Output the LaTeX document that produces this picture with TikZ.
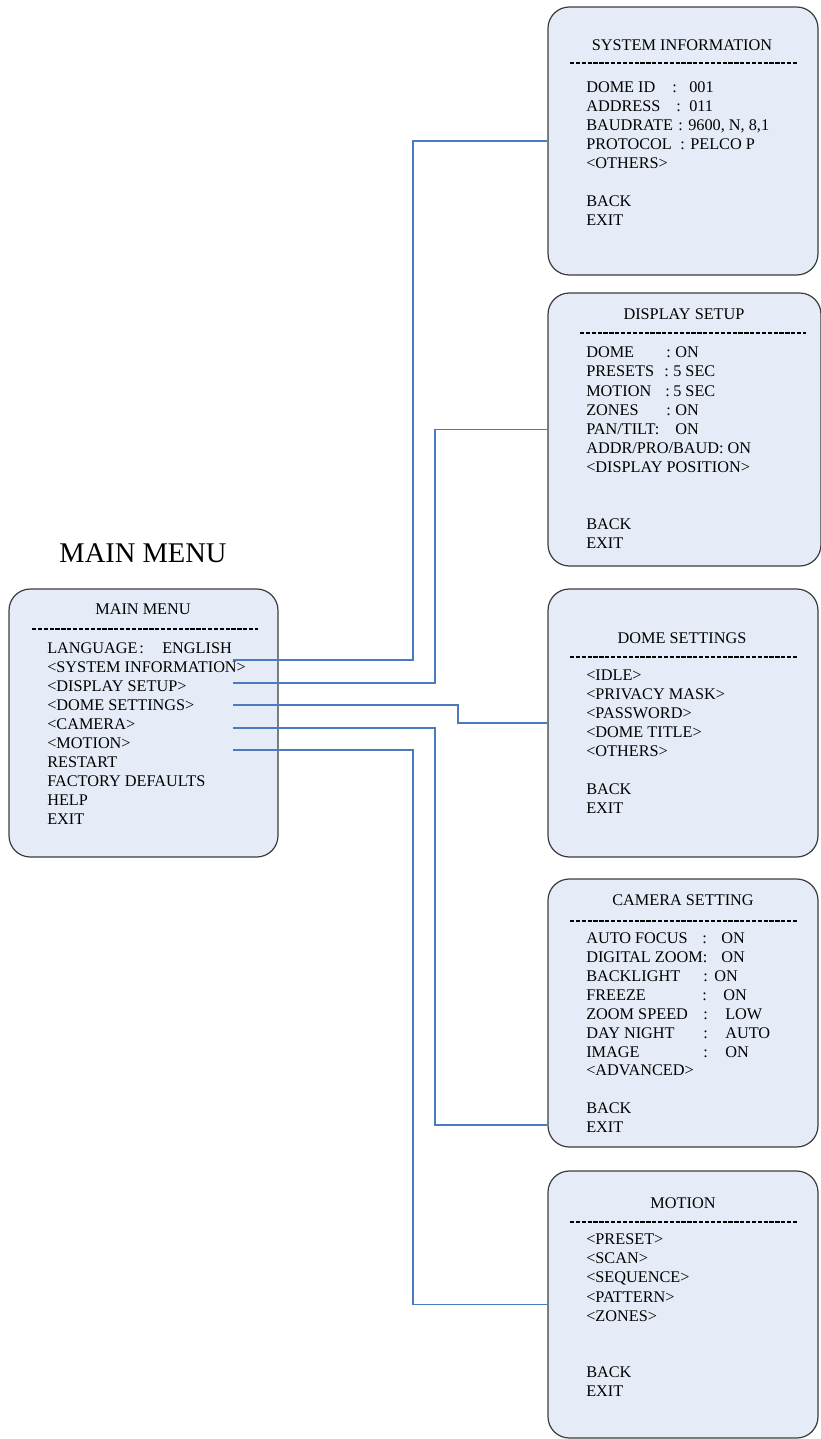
\documentclass[tikz,border=0pt]{standalone}
\usepackage{fontspec}
\setmainfont{Liberation Serif}
\usetikzlibrary{fit,calc}
\definecolor{boxfill}{RGB}{230,236,247}
\definecolor{boxline}{RGB}{60,60,60}
\definecolor{conncol}{RGB}{74,122,192}
\tikzset{
  menubox/.style={draw=boxline, fill=boxfill, rounded corners=16pt, line width=0.9pt, inner sep=0pt},
  itm/.style={anchor=base west, inner sep=0pt, yshift=-4.05pt, font=\fontsize{12.2}{14}\selectfont},
  ttl/.style={anchor=base, inner sep=0pt, yshift=-4.05pt, font=\fontsize{12.2}{14}\selectfont},
  sepline/.style={line width=0.8pt, dash pattern=on 3.2pt off 1.2pt},
  conn/.style={draw=conncol, line width=1pt}
}
\newcommand\tx[4]{\node[itm] (#1) at (#2,#3) {#4};}
\begin{document}
\begin{tikzpicture}[x=0.75pt,y=-0.75pt]
\useasboundingbox[fill=white] (0,0) rectangle (821,1439);
% big title
\node[anchor=base, inner sep=0pt, yshift=-7.1pt, font=\fontsize{21.4}{24}\selectfont] (bigtitle) at (143,553) {MAIN MENU};
% boxes
\node[menubox, fit={(9,589) (278,857)}] (main) {};
\node[menubox, fit={(548,7) (818,275)}] (sys) {};
\node[menubox, fit={(548,293) (821,566)}] (disp) {};
\node[menubox, fit={(548,589) (818,857)}] (dome) {};
\node[menubox, fit={(548,879) (818,1147)}] (cam) {};
\node[menubox, fit={(548,1171) (818,1438)}] (mot) {};
% separators
\coordinate (ms1) at (32,629); \coordinate (ms2) at (258,629);
\draw[sepline] (ms1) -- (ms2);
\coordinate (ss1) at (570,63); \coordinate (ss2) at (797,63);
\draw[sepline] (ss1) -- (ss2);
\coordinate (ds1) at (580,333); \coordinate (ds2) at (806,333);
\draw[sepline] (ds1) -- (ds2);
\coordinate (os1) at (570,657); \coordinate (os2) at (797,657);
\draw[sepline] (os1) -- (os2);
\coordinate (cs1) at (570,921); \coordinate (cs2) at (797,921);
\draw[sepline] (cs1) -- (cs2);
\coordinate (ts1) at (570,1222); \coordinate (ts2) at (797,1222);
\draw[sepline] (ts1) -- (ts2);
% main menu
\node[ttl] (mainT) at (143,609) {MAIN MENU};
\tx{m1}{47}{648}{LANGUAGE}
\tx{m1c}{139}{648}{:}
\tx{m1v}{162}{648}{ENGLISH}
\tx{m2}{47}{667}{<SYSTEM INFORMATION>}
\tx{m3}{47}{686}{<DISPLAY SETUP>}
\tx{m4}{47}{705}{<DOME SETTINGS>}
\tx{m5}{47}{724}{<CAMERA>}
\tx{m6}{47}{743}{<MOTION>}
\tx{m7}{47}{762}{RESTART}
\tx{m8}{47}{781}{FACTORY DEFAULTS}
\tx{m9}{47}{800}{HELP}
\tx{m10}{47}{819}{EXIT}
% system information
\node[ttl] (sysT) at (682,45) {SYSTEM INFORMATION};
\tx{s1}{586}{87}{DOME ID}
\tx{s1c}{672}{87}{:}
\tx{s1v}{689}{87}{001}
\tx{s2}{586}{106}{ADDRESS}
\tx{s2c}{676}{106}{:}
\tx{s2v}{689}{106}{011}
\tx{s3}{586}{125}{BAUDRATE}
\tx{s3c}{678}{125}{:}
\tx{s3v}{688}{125}{9600, N, 8,1}
\tx{s4}{586}{144}{PROTOCOL}
\tx{s4c}{680}{144}{:}
\tx{s4v}{690}{144}{PELCO P}
\tx{s5}{586}{163}{<OTHERS>}
\tx{s6}{586}{201}{BACK}
\tx{s7}{586}{220}{EXIT}
% display setup
\node[ttl] (dispT) at (684,314) {DISPLAY SETUP};
\tx{d1}{586}{352}{DOME}
\tx{d1c}{666}{352}{:}
\tx{d1v}{675}{352}{ON}
\tx{d2}{586}{371}{PRESETS}
\tx{d2c}{664}{371}{:}
\tx{d2v}{673}{371}{5 SEC}
\tx{d3}{586}{391}{MOTION}
\tx{d3c}{665}{391}{:}
\tx{d3v}{673}{391}{5 SEC}
\tx{d4}{586}{410}{ZONES}
\tx{d4c}{666}{410}{:}
\tx{d4v}{675}{410}{ON}
\tx{d5}{586}{429}{PAN/TILT:}
\tx{d5v}{675}{429}{ON}
\tx{d6}{586}{448}{ADDR/PRO/BAUD: ON}
\tx{d7}{586}{467}{<DISPLAY POSITION>}
\tx{d8}{586}{524}{BACK}
\tx{d9}{586}{543}{EXIT}
% dome settings
\node[ttl] (domeT) at (682,638) {DOME SETTINGS};
\tx{o1}{586}{675}{<IDLE>}
\tx{o2}{586}{694}{<PRIVACY MASK>}
\tx{o3}{586}{713}{<PASSWORD>}
\tx{o4}{586}{732}{<DOME TITLE>}
\tx{o5}{586}{751}{<OTHERS>}
\tx{o6}{586}{789}{BACK}
\tx{o7}{586}{808}{EXIT}
% camera setting
\node[ttl] (camT) at (683,900) {CAMERA SETTING};
\tx{c1}{586}{938}{AUTO FOCUS}
\tx{c1c}{702}{938}{:}
\tx{c1v}{721}{938}{ON}
\tx{c2}{586}{957}{DIGITAL ZOOM:}
\tx{c2v}{721}{957}{ON}
\tx{c3}{586}{976}{BACKLIGHT}
\tx{c3c}{703}{976}{:}
\tx{c3v}{714}{976}{ON}
\tx{c4}{586}{995}{FREEZE}
\tx{c4c}{702}{995}{:}
\tx{c4v}{723}{995}{ON}
\tx{c5}{586}{1014}{ZOOM SPEED}
\tx{c5c}{703}{1014}{:}
\tx{c5v}{725}{1014}{LOW}
\tx{c6}{586}{1033}{DAY NIGHT}
\tx{c6c}{703}{1033}{:}
\tx{c6v}{725}{1033}{AUTO}
\tx{c7}{586}{1052}{IMAGE}
\tx{c7c}{703}{1052}{:}
\tx{c7v}{725}{1052}{ON}
\tx{c8}{586}{1070}{<ADVANCED>}
\tx{c9}{586}{1108}{BACK}
\tx{c10}{586}{1127}{EXIT}
% motion
\node[ttl] (motT) at (683,1203) {MOTION};
\tx{t1}{586}{1239}{<PRESET>}
\tx{t2}{586}{1258}{<SCAN>}
\tx{t3}{586}{1277}{<SEQUENCE>}
\tx{t4}{586}{1297}{<PATTERN>}
\tx{t5}{586}{1316}{<ZONES>}
\tx{t6}{586}{1372}{BACK}
\tx{t7}{586}{1391}{EXIT}
% connectors
\coordinate (k1) at (233,660);
\coordinate (k2) at (233,683);
\coordinate (k3) at (233,705);
\coordinate (k4) at (233,728);
\coordinate (k5) at (233,750);
\coordinate (camin) at ($(cam.west)+(0,112)$);
\draw[conn] (k1) -- ++(180,0) |- (sys.west);
\draw[conn] (k2) -- ++(202,0) |- (disp.west);
\draw[conn] (k3) -- ++(225,0) |- (dome.west);
\draw[conn] (k4) -- ++(202,0) |- (camin);
\draw[conn] (k5) -- ++(180,0) |- (mot.west);
\end{tikzpicture}
\end{document}
